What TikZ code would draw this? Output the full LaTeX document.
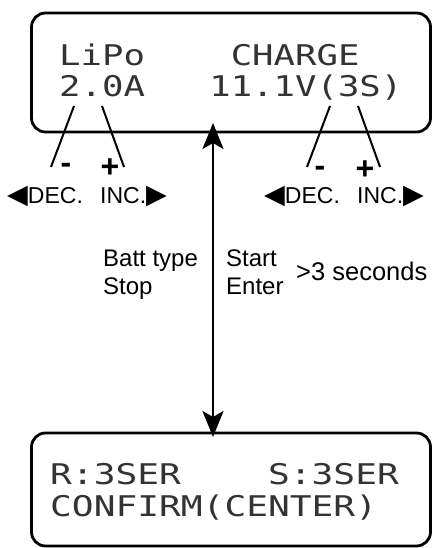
\documentclass[tikz,border=0pt]{standalone}
\usepackage{fontspec}
\usepackage{graphicx}
\setmainfont{Liberation Sans}
\newfontfamily\lcdfont{DejaVu Sans Mono}
\newfontfamily\symfont{DejaVu Sans}
\newcommand\lefttri{{\symfont\fontsize{27}{27}\selectfont ◀}}
\newcommand\righttri{{\symfont\fontsize{27}{27}\selectfont ▶}}
\usetikzlibrary{arrows.meta}
\begin{document}
\begin{tikzpicture}[x=1pt,y=-1pt,
  lcdbox/.style={draw, line width=2.8pt, rounded corners=14pt, inner sep=0pt},
  lcdtext/.style={anchor=base west, inner sep=0pt, font=\lcdfont\fontsize{28.5}{28.5}\selectfont, text=black!80},
  pin/.style={line width=2pt},
  sign/.style={inner sep=0pt, anchor=base, font=\bfseries\fontsize{32}{32}\selectfont},
  keylbl/.style={inner sep=0pt, anchor=base west, font=\fontsize{23}{23}\selectfont},
  lbl/.style={inner sep=0pt, anchor=base west, font=\fontsize{24}{24}\selectfont},
  link/.style={line width=2.8pt, {Stealth[length=26pt,width=21pt,inset=6pt]}-{Stealth[length=26pt,width=21pt,inset=6pt]}},
]
\useasboundingbox (0,0) rectangle (433,548);
% LCD boxes
\node[lcdbox, minimum width=399pt, minimum height=119pt] (lcdT) at (231,72.5) {};
\node[lcdbox, minimum width=399pt, minimum height=113pt] (lcdB) at (231,489.5) {};
% LCD texts
\node[lcdtext] (t1) at (59,66) {\scalebox{1.25}[1]{LiPo~~~~CHARGE}};
\node[lcdtext] (t2) at (59,97) {\scalebox{1.25}[1]{2.0A~~~11.1V(3S)}};
\node[lcdtext] (b1) at (50,484) {\scalebox{1.27}[1]{R:3SER~~~~S:3SER}};
\node[lcdtext] (b2) at (50,516) {\scalebox{1.27}[1]{CONFIRM(CENTER)}};
% pointer lines
\coordinate (m1a) at (74,106); \coordinate (m1b) at (51,167);
\coordinate (p1a) at (102,106); \coordinate (p1b) at (124,167);
\coordinate (m2a) at (330,106); \coordinate (m2b) at (307,167);
\coordinate (p2a) at (358,106); \coordinate (p2b) at (380,167);
\draw[pin] (m1a) -- (m1b);
\draw[pin] (p1a) -- (p1b);
\draw[pin] (m2a) -- (m2b);
\draw[pin] (p2a) -- (p2b);
% signs
\node[sign] (minus1) at (66,173) {-};
\node[sign] (plus1) at (110,178) {+};
\node[sign] (minus2) at (320,176) {-};
\node[sign] (plus2) at (365,179) {+};
% key labels
\node[keylbl] (dec1) at (7,203.5) {\lefttri DEC.};
\node[keylbl] (inc1) at (100,203.5) {INC.\righttri};
\node[keylbl] (dec2) at (264,203.5) {\lefttri DEC.};
\node[keylbl] (inc2) at (357,203.5) {INC.\righttri};
% link arrow
\coordinate (tipT) at (213,123);
\coordinate (tipB) at (213,437);
\draw[link] (tipB) -- (tipT);
% labels
\node[lbl] (batt) at (103,266) {Batt type};
\node[lbl] (stop) at (103,294.5) {Stop};
\node[lbl] (start) at (226,266) {Start};
\node[lbl] (enter) at (226,294.5) {Enter};
\node[lbl, font=\fontsize{25.5}{25.5}\selectfont] (secs) at (296,280) {>3 seconds};
\end{tikzpicture}
\end{document}
